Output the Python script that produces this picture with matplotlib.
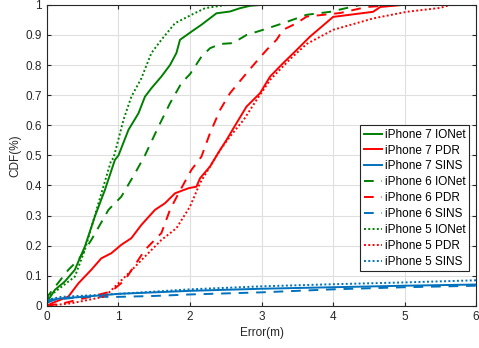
import matplotlib.pyplot as plt

plt.rcParams['font.family'] = ['Liberation Sans', 'DejaVu Sans']

GREEN = '#008000'
RED = '#ff0000'
BLUE = '#0072bd'

# iPhone 7
ip7_ionet_x = [0, 0.02, 0.11, 0.25, 0.39, 0.53, 0.67, 0.81, 0.95, 1.0, 1.14, 1.28, 1.37, 1.46, 1.6, 1.72,
               1.81, 1.86, 2.02, 2.16, 2.37, 2.56, 2.7, 2.84, 3.0]
ip7_ionet_y = [0.01, 0.02, 0.053, 0.081, 0.12, 0.197, 0.297, 0.385, 0.485, 0.5, 0.585, 0.64, 0.695, 0.723, 0.762, 0.80,
               0.84, 0.884, 0.911, 0.934, 0.972, 0.978, 0.989, 0.997, 1.0]
ip7_pdr_x = [0, 0.07, 0.3, 0.44, 0.62, 0.76, 0.9, 1.04, 1.18, 1.32, 1.51, 1.65, 1.79, 1.98, 2.09, 2.14, 2.28,
             2.42, 2.51, 2.65, 2.79, 2.98, 3.12, 3.3, 3.49, 3.68, 4.0, 4.56, 4.66, 4.98]
ip7_pdr_y = [0, 0.009, 0.031, 0.075, 0.12, 0.158, 0.175, 0.203, 0.225, 0.269, 0.319, 0.341, 0.374, 0.391, 0.396, 0.424, 0.463,
             0.518, 0.551, 0.607, 0.662, 0.707, 0.762, 0.806, 0.85, 0.895, 0.96, 0.977, 0.993, 1.0]
ip7_sins_x = [0, 0.05, 0.2, 0.5, 1, 1.5, 2, 3, 4, 5, 6]
ip7_sins_y = [0.01, 0.02, 0.025, 0.03, 0.04, 0.045, 0.05, 0.057, 0.062, 0.067, 0.071]

# iPhone 6
ip6_ionet_x = [0, 0.02, 0.3, 0.44, 0.62, 0.86, 1.04, 1.23, 1.37, 1.56, 1.72, 1.88, 2.0, 2.16, 2.28, 2.42, 2.6,
               2.79, 3.02, 3.3, 3.63, 3.96, 4.38]
ip6_ionet_y = [0.02, 0.035, 0.12, 0.153, 0.219, 0.319, 0.363, 0.44, 0.5, 0.596, 0.673, 0.74, 0.77, 0.828, 0.856, 0.87, 0.873,
               0.90, 0.917, 0.939, 0.967, 0.977, 1.0]
ip6_pdr_x = [0, 0.25, 0.62, 0.9, 1.09, 1.37, 1.6, 1.72, 1.84, 2.02, 2.16, 2.28, 2.42, 2.56, 2.79, 2.93, 3.07,
             3.21, 3.3, 3.49, 3.63, 4.1, 4.47, 4.9]
ip6_pdr_y = [0, 0.01, 0.031, 0.048, 0.086, 0.186, 0.242, 0.319, 0.374, 0.452, 0.496, 0.574, 0.651, 0.707, 0.773, 0.812, 0.85,
             0.884, 0.917, 0.939, 0.961, 0.973, 0.993, 1.0]
ip6_sins_x = [0, 0.1, 0.5, 1, 1.5, 2, 3, 4, 5, 6]
ip6_sins_y = [0.01, 0.02, 0.03, 0.03, 0.033, 0.038, 0.045, 0.055, 0.062, 0.067]

# iPhone 5
ip5_ionet_x = [0, 0.02, 0.39, 0.53, 0.72, 0.9, 0.93, 1.07, 1.18, 1.32, 1.46, 1.6, 1.79, 2.02, 2.21, 2.51]
ip5_ionet_y = [0.01, 0.03, 0.097, 0.186, 0.341, 0.485, 0.49, 0.618, 0.695, 0.756, 0.84, 0.884, 0.939, 0.967, 0.989, 1.0]
ip5_pdr_x = [0, 0.35, 0.81, 0.95, 1.14, 1.37, 1.6, 1.81, 2.0, 2.14, 2.28, 2.42, 2.56, 2.75, 2.93, 3.12, 3.4,
             3.63, 4.0, 4.56, 5.03, 5.5, 5.64]
ip5_pdr_y = [0, 0.009, 0.031, 0.064, 0.108, 0.164, 0.219, 0.258, 0.33, 0.408, 0.463, 0.518, 0.563, 0.618, 0.684, 0.751, 0.82,
             0.87, 0.917, 0.955, 0.977, 0.99, 1.0]
ip5_sins_x = [0, 0.2, 1, 2, 3, 4, 5, 6]
ip5_sins_y = [0.02, 0.03, 0.04, 0.055, 0.065, 0.072, 0.078, 0.085]

fig = plt.figure(figsize=(4.79, 3.48), dpi=100)
ax = fig.add_axes([0.098, 0.121, 0.896, 0.865])

lw = 1.4
dash = (0, (5, 4))
dot = (0, (1, 1.2))
ax.plot(ip7_ionet_x, ip7_ionet_y, color=GREEN, lw=lw, label='iPhone 7 IONet')
ax.plot(ip7_pdr_x, ip7_pdr_y, color=RED, lw=lw, label='iPhone 7 PDR')
ax.plot(ip7_sins_x, ip7_sins_y, color=BLUE, lw=lw, label='iPhone 7 SINS')
ax.plot(ip6_ionet_x, ip6_ionet_y, color=GREEN, lw=lw, ls=dash, label='iPhone 6 IONet')
ax.plot(ip6_pdr_x, ip6_pdr_y, color=RED, lw=lw, ls=dash, label='iPhone 6 PDR')
ax.plot(ip6_sins_x, ip6_sins_y, color=BLUE, lw=lw, ls=dash, label='iPhone 6 SINS')
ax.plot(ip5_ionet_x, ip5_ionet_y, color=GREEN, lw=lw, ls=dot, label='iPhone 5 IONet')
ax.plot(ip5_pdr_x, ip5_pdr_y, color=RED, lw=lw, ls=dot, label='iPhone 5 PDR')
ax.plot(ip5_sins_x, ip5_sins_y, color=BLUE, lw=lw, ls=dot, label='iPhone 5 SINS')

ax.set_xlim(0, 6)
ax.set_ylim(0, 1)
ax.set_xticks(range(7))
ax.set_yticks([i / 10 for i in range(11)])
ax.set_yticklabels(['0', '0.1', '0.2', '0.3', '0.4', '0.5', '0.6', '0.7', '0.8', '0.9', '1'])
ax.grid(True, color='#dfdfdf', lw=0.8)
ax.set_axisbelow(True)
ax.tick_params(direction='in', length=3, labelsize=8.5, colors='#262626', top=True, right=True)
for s in ax.spines.values():
    s.set_color('#262626')
    s.set_linewidth(0.8)
ax.set_xlabel('Error(m)', fontsize=8.5, color='#262626', labelpad=3)
ax.set_ylabel('CDF(%)', fontsize=8.5, color='#262626', labelpad=3)

leg = ax.legend(loc='lower right', bbox_to_anchor=(0.998, 0.095), fontsize=8.5,
                handlelength=1.5, handletextpad=0.3, borderpad=0.3,
                labelspacing=0.33, fancybox=False, framealpha=1)
leg.get_frame().set_edgecolor('#262626')
leg.get_frame().set_linewidth(0.8)

fig.savefig('out.png', dpi=100)
